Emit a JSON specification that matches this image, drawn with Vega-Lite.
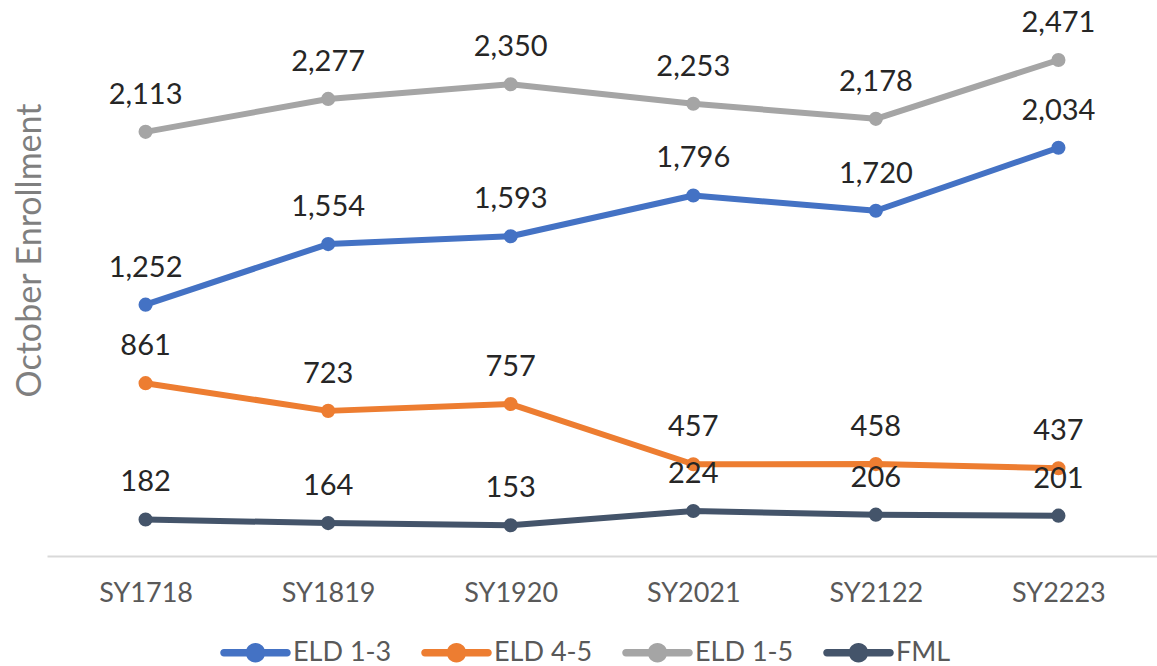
{
  "$schema": "https://vega.github.io/schema/vega-lite/v6.json",
  "width": 1110,
  "height": 552,
  "autosize": {"type": "none"},
  "padding": {"left": 47, "top": 4, "right": 0, "bottom": 110},
  "background": "white",
  "config": {"view": {"stroke": null}, "font": "Lato"},
  "data": {
    "values": [
      {"year": "SY1718", "series": "ELD 1-3", "value": 1252},
      {"year": "SY1819", "series": "ELD 1-3", "value": 1554},
      {"year": "SY1920", "series": "ELD 1-3", "value": 1593},
      {"year": "SY2021", "series": "ELD 1-3", "value": 1796},
      {"year": "SY2122", "series": "ELD 1-3", "value": 1720},
      {"year": "SY2223", "series": "ELD 1-3", "value": 2034},
      {"year": "SY1718", "series": "ELD 4-5", "value": 861},
      {"year": "SY1819", "series": "ELD 4-5", "value": 723},
      {"year": "SY1920", "series": "ELD 4-5", "value": 757},
      {"year": "SY2021", "series": "ELD 4-5", "value": 457},
      {"year": "SY2122", "series": "ELD 4-5", "value": 458},
      {"year": "SY2223", "series": "ELD 4-5", "value": 437},
      {"year": "SY1718", "series": "ELD 1-5", "value": 2113},
      {"year": "SY1819", "series": "ELD 1-5", "value": 2277},
      {"year": "SY1920", "series": "ELD 1-5", "value": 2350},
      {"year": "SY2021", "series": "ELD 1-5", "value": 2253},
      {"year": "SY2122", "series": "ELD 1-5", "value": 2178},
      {"year": "SY2223", "series": "ELD 1-5", "value": 2471},
      {"year": "SY1718", "series": "FML", "value": 182},
      {"year": "SY1819", "series": "FML", "value": 164},
      {"year": "SY1920", "series": "FML", "value": 153},
      {"year": "SY2021", "series": "FML", "value": 224},
      {"year": "SY2122", "series": "FML", "value": 206},
      {"year": "SY2223", "series": "FML", "value": 201}
    ]
  },
  "encoding": {
    "x": {
      "field": "year",
      "type": "ordinal",
      "sort": null,
      "scale": {"type": "point", "padding": 0.54},
      "axis": {
        "title": null,
        "domain": true,
        "domainColor": "#D9D9D9",
        "domainWidth": 2,
        "ticks": false,
        "grid": false,
        "labelAngle": 0,
        "labelFontSize": 27,
        "labelColor": "#595959",
        "labelBaseline": "alphabetic",
        "labelPadding": 45
      }
    },
    "y": {
      "field": "value",
      "type": "quantitative",
      "scale": {"domain": [0, 2750], "nice": false, "zero": true},
      "axis": {
        "labels": false,
        "ticks": false,
        "domain": false,
        "grid": false,
        "title": "October Enrollment",
        "titleFontSize": 34,
        "titleFontWeight": "normal",
        "titleColor": "#7F7F7F",
        "titleAngle": -90,
        "titleAlign": "center",
        "titleBaseline": "middle",
        "titleX": -17,
        "titleY": 246
      }
    }
  },
  "layer": [
    {
      "mark": {"type": "line", "strokeWidth": 6, "strokeCap": "round", "strokeJoin": "round"},
      "encoding": {
        "color": {
          "field": "series",
          "type": "nominal",
          "scale": {
            "domain": ["ELD 1-3", "ELD 4-5", "ELD 1-5", "FML"],
            "range": ["#4472C4", "#ED7D31", "#A5A5A5", "#44546A"]
          },
          "legend": {
            "title": null,
            "orient": "none",
            "direction": "horizontal",
            "legendX": 176,
            "legendY": 616,
            "symbolType": "M-0.97,-0.115L0.97,-0.115A0.115,0.115,0,0,1,0.97,0.115L-0.97,0.115A0.115,0.115,0,0,1,-0.97,-0.115Z M0.3,0A0.3,0.3,0,1,1,-0.3,0A0.3,0.3,0,1,1,0.3,0Z",
            "symbolSize": 4225,
            "symbolStrokeWidth": 0,
            "labelFontSize": 27,
            "labelColor": "#595959",
            "labelOffset": 5,
            "columnPadding": 29,
            "encode": {
              "symbols": {
                "update": {
                  "fill": {"scale": "color", "field": "value"},
                  "strokeWidth": {"value": 0},
                  "opacity": {"value": 1}
                }
              }
            }
          }
        }
      }
    },
    {
      "mark": {"type": "point", "filled": true, "size": 200, "opacity": 1},
      "encoding": {
        "color": {"field": "series", "type": "nominal", "legend": null}
      }
    },
    {
      "mark": {"type": "text", "dy": -28, "fontSize": 29, "color": "#262626", "baseline": "alphabetic"},
      "encoding": {
        "text": {"field": "value", "type": "quantitative", "format": ",d"}
      }
    }
  ]
}
